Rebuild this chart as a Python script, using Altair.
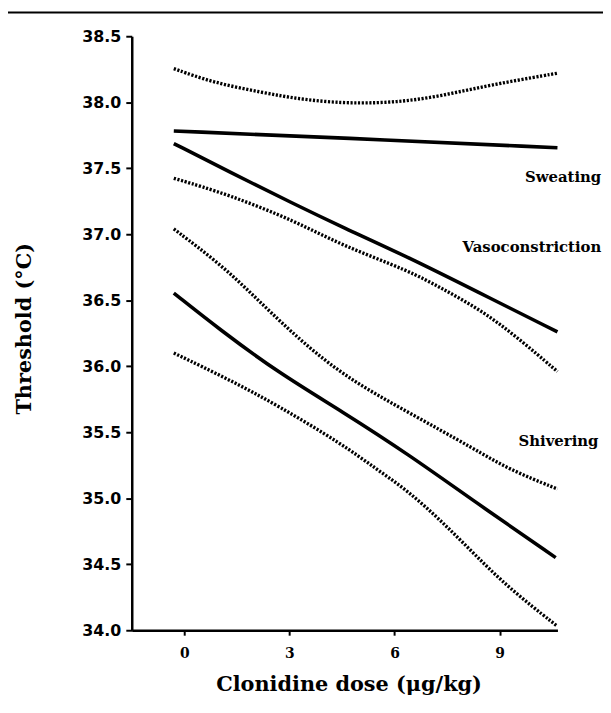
import altair as alt
import pandas as pd

# ---- data ----
sweat_up_x = [-0.3, 0.8, 2.2, 3.35, 4.5, 5.5, 6.4, 7.35, 8.3, 9.25, 10.65]
sweat_up_y = [38.255, 38.15, 38.075, 38.02, 37.994, 37.994, 38.01, 38.05, 38.105, 38.155, 38.22]

sweat_x = [-0.3, 4.5, 10.65]
sweat_y = [37.782, 37.73, 37.655]

vaso_x = [-0.3, 1.27, 3.16, 4.5, 6.41, 8.29, 10.65]
vaso_y = [37.687, 37.475, 37.225, 37.055, 36.824, 36.574, 36.26]

vaso_lo_x = [-0.3, 1.27, 3.16, 4.5, 6.41, 7.35, 8.5, 9.5, 10.65]
vaso_lo_y = [37.424, 37.30, 37.10, 36.915, 36.724, 36.59, 36.42, 36.22, 35.96]

shiv_up_x = [-0.3, 1.0, 2.0, 3.0, 4.5, 6.4, 8.3, 9.25, 10.65]
shiv_up_y = [37.04, 36.78, 36.53, 36.27, 35.93, 35.65, 35.37, 35.22, 35.07]

shiv_x = [-0.3, 1.0, 2.69, 4.52, 6.41, 8.29, 10.6]
shiv_y = [36.554, 36.28, 35.95, 35.655, 35.33, 34.974, 34.55]

shiv_lo_x = [-0.3, 1.27, 2.69, 4.5, 5.47, 6.41, 7.35, 8.29, 9.24, 10.65]
shiv_lo_y = [36.10, 35.90, 35.70, 35.41, 35.224, 35.05, 34.824, 34.574, 34.324, 34.03]

label_text = ["Sweating", "Vasoconstriction", "Shivering"]
label_x = [11.9, 11.9, 11.82]
label_y = [37.43, 36.90, 35.43]

x_ticks = [0, 3, 6, 9]
y_ticks = [34 + 0.25 * i for i in range(19)]

# ---- build tables ----
def tbl(name, xs, ys):
    return pd.DataFrame({"series": name, "dose": xs, "thr": ys})

solid = pd.concat([tbl("sweat", sweat_x, sweat_y),
                   tbl("vaso", vaso_x, vaso_y),
                   tbl("shiv", shiv_x, shiv_y)])
dotted = pd.concat([tbl("sweat_up", sweat_up_x, sweat_up_y),
                    tbl("vaso_lo", vaso_lo_x, vaso_lo_y),
                    tbl("shiv_up", shiv_up_x, shiv_up_y),
                    tbl("shiv_lo", shiv_lo_x, shiv_lo_y)])
labels = pd.DataFrame({"t": label_text, "dose": label_x, "thr": label_y})

xscale = alt.Scale(domain=[-1.5, 10.65], nice=False, zero=False)
yscale = alt.Scale(domain=[34, 38.5], nice=False, zero=False)

xaxis = alt.Axis(values=x_ticks, title="Clonidine dose (μg/kg)", grid=False,
                 tickSize=5, tickWidth=2, domainWidth=2.5, domainColor="black",
                 tickColor="black", labelFont="DejaVu Serif", labelFontWeight="bold",
                 labelFontSize=14, labelColor="black", labelPadding=12,
                 titleFont="DejaVu Serif", titleFontWeight="bold", titleFontSize=21,
                 titleColor="black", titleX=219, titleY=55, titleBaseline="middle",
                 titleAlign="center")
yaxis = alt.Axis(values=y_ticks, title="Threshold (°C)", grid=False,
                 labelExpr="(datum.value * 2) % 1 == 0 ? format(datum.value, '.1f') : ''",
                 tickSize=6, tickWidth=2, domainWidth=2.5, domainColor="black",
                 tickColor="black", labelFont="DejaVu Sans", labelFontWeight="bold",
                 labelFontSize=16, labelColor="black", labelPadding=5,
                 titleFont="DejaVu Serif", titleFontWeight="bold", titleFontSize=21,
                 titleColor="black", titleX=-108, titleY=295, titleAngle=270,
                 titleBaseline="middle", titleAlign="center")

solid_layer = alt.Chart(solid).mark_line(color="black", strokeWidth=3.6,
                                          interpolate="basis").encode(
    x=alt.X("dose:Q", scale=xscale, axis=xaxis),
    y=alt.Y("thr:Q", scale=yscale, axis=yaxis),
    detail="series:N",
)
dotted_layer = alt.Chart(dotted).mark_line(color="black", strokeWidth=3.4,
                                            strokeDash=[2.2, 1.6],
                                            interpolate="basis").encode(
    x=alt.X("dose:Q", scale=xscale),
    y=alt.Y("thr:Q", scale=yscale),
    detail="series:N",
)
text_layer = alt.Chart(labels).mark_text(font="DejaVu Serif", fontWeight="bold",
                                         fontSize=15, align="right", baseline="middle",
                                         color="black").encode(
    x=alt.X("dose:Q", scale=xscale),
    y=alt.Y("thr:Q", scale=yscale),
    text="t:N",
)
top_rule = alt.Chart(pd.DataFrame({"a": [0]})).mark_rule(color="black", strokeWidth=2).encode(
    x=alt.value(-125), x2=alt.value(476), y=alt.value(-24)
)

chart = alt.layer(solid_layer, dotted_layer, text_layer, top_rule).properties(
    width=430, height=600,
    background="white",
    autosize=alt.AutoSizeParams(type="none"),
    padding={"left": 125, "top": 25, "right": 46, "bottom": 72},
).configure_view(strokeWidth=0, stroke="transparent")

chart.save("out.html", embed_options={"renderer": "svg", "actions": False})
